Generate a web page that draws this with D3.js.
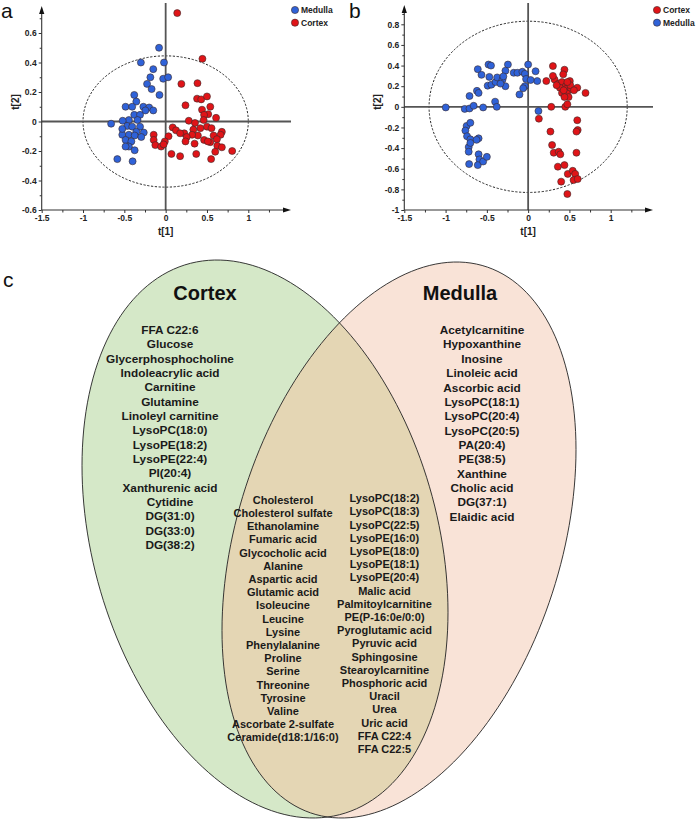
<!DOCTYPE html>
<html><head><meta charset="utf-8">
<script src="https://cdn.jsdelivr.net/npm/d3@7"></script>
<style>
body{margin:0;background:#fff}
svg{display:block}
text{font-family:"Liberation Sans",Arial,Helvetica,sans-serif}
</style>
</head><body>
<svg id="chart" width="697" height="819"></svg>
<script>
// ---------- Panel a data (t[1], t[2]) ----------
const aMedulla = [[-0.08,0.50],[-0.30,0.40],[-0.02,0.40],[-0.15,0.355],[-0.185,0.30],[-0.03,0.29],[0.03,0.30],[-0.225,0.255],[-0.17,0.22],[-0.075,0.18],[-0.38,0.18],[-0.355,0.135],[-0.485,0.10],[-0.405,0.10],[-0.27,0.10],[-0.20,0.095],[-0.15,0.075],[-0.245,0.075],[-0.38,0.045],[-0.31,0.045],[-0.34,0.01],[-0.445,0.01],[-0.52,0.005],[-0.66,-0.015],[-0.465,-0.03],[-0.405,-0.035],[-0.31,-0.035],[-0.355,-0.07],[-0.265,-0.075],[-0.525,-0.09],[-0.445,-0.09],[-0.375,-0.095],[-0.295,-0.105],[-0.485,-0.125],[-0.415,-0.135],[-0.445,-0.17],[-0.485,-0.17],[-0.375,-0.195],[-0.585,-0.255],[-0.40,-0.27],[-0.525,-0.05]];
const aCortex = [[0.14,0.735],[0.445,0.425],[0.19,0.255],[0.385,0.26],[0.38,0.155],[0.43,0.15],[0.50,0.17],[0.24,0.11],[0.54,0.10],[0.44,0.08],[0.515,0.05],[0.465,0.045],[0.61,0.025],[0.28,0.005],[0.355,-0.01],[0.46,0.01],[0.085,-0.04],[0.125,-0.06],[0.225,-0.08],[0.175,-0.08],[0.335,-0.055],[0.42,-0.045],[0.50,-0.035],[0.555,-0.045],[0.39,-0.095],[0.32,-0.09],[0.255,-0.105],[0.68,-0.07],[0.665,-0.09],[0.58,-0.095],[-0.145,-0.09],[-0.145,-0.125],[0.035,-0.10],[-0.01,-0.135],[-0.125,-0.16],[-0.055,-0.17],[-0.025,-0.155],[0.24,-0.135],[0.35,-0.15],[0.465,-0.125],[0.54,-0.14],[0.62,-0.12],[0.625,-0.165],[0.60,-0.205],[0.68,-0.175],[0.805,-0.20],[0.07,-0.22],[0.175,-0.235],[0.37,-0.22],[0.55,-0.255],[0.51,-0.135]];
const aEllipse = [1.0, 0.445];
const aXTicks = [-1.5,-1,-0.5,0,0.5,1];
const aXMinor = [-1.25,-0.75,-0.25,0.25,0.75,1.25];
const aYTicks = [-0.6,-0.4,-0.2,0,0.2,0.4,0.6];
const aYMinor = [-0.5,-0.3,-0.1,0.1,0.3,0.5,0.7];

// ---------- Panel b data ----------
const bMedulla = [[-0.998,-0.006],[-0.768,-0.02],[-0.71,-0.016],[-0.66,0.01],[-0.545,-0.006],[-0.40,0.05],[-0.38,0.0],[-0.71,0.105],[-0.62,0.155],[-0.60,0.135],[-0.61,0.365],[-0.565,0.31],[-0.48,0.41],[-0.45,0.40],[-0.47,0.29],[-0.49,0.205],[-0.445,0.215],[-0.395,0.24],[-0.375,0.285],[-0.31,0.265],[-0.275,0.20],[-0.245,0.41],[-0.275,0.35],[-0.175,0.33],[-0.13,0.33],[-0.07,0.34],[-0.04,0.32],[0.0,0.41],[-0.025,0.27],[-0.04,0.20],[-0.06,0.18],[-0.105,0.12],[0.09,0.345],[0.11,0.25],[0.03,0.26],[0.125,-0.04],[-0.30,0.295],[-0.335,0.225],[-0.745,-0.185],[-0.76,-0.23],[-0.70,-0.155],[-0.74,-0.285],[-0.70,-0.315],[-0.60,-0.305],[-0.625,-0.32],[-0.72,-0.39],[-0.72,-0.435],[-0.60,-0.46],[-0.59,-0.51],[-0.61,-0.565],[-0.545,-0.53],[-0.50,-0.485],[-0.715,-0.555],[-0.70,-0.35]];
const bCortex = [[0.30,0.395],[0.44,0.36],[0.22,0.25],[0.32,0.265],[0.30,0.30],[0.425,0.315],[0.37,0.225],[0.41,0.24],[0.455,0.20],[0.505,0.25],[0.385,0.185],[0.465,0.175],[0.52,0.17],[0.595,0.185],[0.41,0.135],[0.47,0.13],[0.49,0.095],[0.44,0.095],[0.695,0.135],[0.51,0.21],[0.345,0.21],[0.28,0.0],[0.45,0.0],[0.475,0.025],[0.555,0.16],[0.475,0.24],[0.43,0.16],[0.13,-0.115],[0.27,-0.24],[0.29,-0.37],[0.31,-0.445],[0.37,-0.435],[0.39,-0.46],[0.36,-0.58],[0.44,-0.565],[0.40,-0.725],[0.48,-0.65],[0.54,-0.62],[0.57,-0.65],[0.55,-0.71],[0.60,-0.70],[0.475,-0.845],[0.595,-0.13],[0.60,-0.225],[0.585,-0.24],[0.585,-0.445]];
const bEllipse = [1.2, 0.83];
const bXTicks = [-1.5,-1,-0.5,0,0.5,1];
const bXMinor = [-1.25,-0.75,-0.25,0.25,0.75,1.25];
const bYTicks = [-1,-0.8,-0.6,-0.4,-0.2,0,0.2,0.4,0.6,0.8];
const bYMinor = [-0.9,-0.7,-0.5,-0.3,-0.1,0.1,0.3,0.5,0.7,0.9];

// ---------- Panel c data ----------
const cortexOnly = ["FFA C22:6","Glucose","Glycerphosphocholine","Indoleacrylic acid","Carnitine","Glutamine","Linoleyl carnitine","LysoPC(18:0)","LysoPE(18:2)","LysoPE(22:4)","PI(20:4)","Xanthurenic acid","Cytidine","DG(31:0)","DG(33:0)","DG(38:2)"];
const medullaOnly = ["Acetylcarnitine","Hypoxanthine","Inosine","Linoleic acid","Ascorbic acid","LysoPC(18:1)","LysoPC(20:4)","LysoPC(20:5)","PA(20:4)","PE(38:5)","Xanthine","Cholic acid","DG(37:1)","Elaidic acid"];
const sharedLeft = ["Cholesterol","Cholesterol sulfate","Ethanolamine","Fumaric acid","Glycocholic acid","Alanine","Aspartic acid","Glutamic acid","Isoleucine","Leucine","Lysine","Phenylalanine","Proline","Serine","Threonine","Tyrosine","Valine","Ascorbate 2-sulfate","Ceramide(d18:1/16:0)"];
const sharedRight = ["LysoPC(18:2)","LysoPC(18:3)","LysoPC(22:5)","LysoPE(16:0)","LysoPE(18:0)","LysoPE(18:1)","LysoPE(20:4)","Malic acid","Palmitoylcarnitine","PE(P-16:0e/0:0)","Pyroglutamic acid","Pyruvic acid","Sphingosine","Stearoylcarnitine","Phosphoric acid","Uracil","Urea","Uric acid","FFA C22:4","FFA C22:5"];

const BLUE = "#2f62d8", RED = "#e01418";
const svg = d3.select("#chart");
const fmt = d => String(d);

function drawPCA(cfg) {
  const x = d3.scaleLinear().domain([-1.5, 1]).range(cfg.xRange);
  const y = d3.scaleLinear().domain(cfg.yDomain).range(cfg.yRange);
  const g = svg.append("g");
  const x0 = x(-1.5), yb = y(cfg.yDomain[0]);

  // Hotelling ellipse
  g.append("ellipse").attr("cx", x(0)).attr("cy", y(0))
    .attr("rx", x(cfg.ell[0]) - x(0)).attr("ry", y(0) - y(cfg.ell[1]))
    .attr("fill", "none").attr("stroke", "#111").attr("stroke-width", 0.9)
    .attr("stroke-dasharray", "2.2,1.6");

  // cross lines
  g.append("line").attr("x1", x0).attr("x2", cfg.xArrow).attr("y1", y(0)).attr("y2", y(0))
    .attr("stroke", "#555").attr("stroke-width", 1.8);
  g.append("line").attr("x1", x(0)).attr("x2", x(0)).attr("y1", cfg.vTop).attr("y2", yb)
    .attr("stroke", "#555").attr("stroke-width", 1.8);

  // axes
  const xa = g.append("g").attr("transform", `translate(0,${yb})`)
    .call(d3.axisBottom(x).tickValues(cfg.xTicks).tickSize(3).tickPadding(2).tickFormat(fmt));
  const xm = g.append("g").attr("transform", `translate(0,${yb})`)
    .call(d3.axisBottom(x).tickValues(cfg.xMinor).tickSize(2.5).tickFormat(""));
  const ya = g.append("g").attr("transform", `translate(${x0},0)`)
    .call(d3.axisLeft(y).tickValues(cfg.yTicks).tickSize(3).tickPadding(2).tickFormat(fmt));
  const ym = g.append("g").attr("transform", `translate(${x0},0)`)
    .call(d3.axisLeft(y).tickValues(cfg.yMinor).tickSize(2).tickFormat(""));
  [xa, xm, ya, ym].forEach(a => {
    a.select(".domain").remove();
    a.selectAll("line").attr("stroke", "#333");
    a.selectAll("text").attr("font-size", 8.5).attr("font-weight", "bold").attr("fill", "#222");
  });

  // axis lines + arrows
  g.append("line").attr("x1", x0).attr("x2", cfg.xArrow - 4).attr("y1", yb).attr("y2", yb)
    .attr("stroke", "#333").attr("stroke-width", 1.1);
  g.append("line").attr("x1", x0).attr("x2", x0).attr("y1", yb).attr("y2", cfg.yArrow + 4)
    .attr("stroke", "#333").attr("stroke-width", 1.1);
  g.append("path").attr("d", `M${cfg.xArrow},${yb} l-8,-2.6 l0,5.2 Z`).attr("fill", "#111");
  g.append("path").attr("d", `M${x0},${cfg.yArrow} l-2.6,8 l5.2,0 Z`).attr("fill", "#111");

  // points
  cfg.series.forEach(s => {
    g.append("g").selectAll("circle").data(s.data).join("circle")
      .attr("cx", d => x(d[0])).attr("cy", d => y(d[1])).attr("r", 3.5)
      .attr("fill", s.color).attr("stroke", "#3a2a2a").attr("stroke-width", 0.6);
  });

  // axis titles
  g.append("text").attr("x", x(0)).attr("y", 235).attr("text-anchor", "middle")
    .attr("font-size", 10).attr("font-weight", "bold").attr("fill", "#222").text("t[1]");
  g.append("text").attr("transform", `translate(${x0 - 23},${cfg.t2y}) rotate(-90)`)
    .attr("text-anchor", "middle").attr("font-size", 10).attr("font-weight", "bold")
    .attr("fill", "#222").text("t[2]");

  // legend
  cfg.legend.forEach((s, i) => {
    const ly = 10 + i * 12.7;
    g.append("circle").attr("cx", cfg.legX).attr("cy", ly).attr("r", 3.6)
      .attr("fill", s.color).attr("stroke", "#3a2a2a").attr("stroke-width", 0.6);
    g.append("text").attr("x", cfg.legX + 6).attr("y", ly + 3).attr("font-size", 8.5)
      .attr("font-weight", "bold").attr("fill", "#222").text(s.name);
  });

  // panel label
  svg.append("text").attr("x", cfg.labX).attr("y", 18).attr("font-size", 21)
    .attr("fill", "#111").text(cfg.label);
}

drawPCA({
  xRange: [41.7, 248.3], yDomain: [-0.6, 0.6], yRange: [210, 33],
  ell: aEllipse, xArrow: 291, yArrow: 6, vTop: 3, t2y: 102,
  xTicks: aXTicks, xMinor: aXMinor, yTicks: aYTicks, yMinor: aYMinor,
  series: [{data: aMedulla, color: BLUE}, {data: aCortex, color: RED}],
  legend: [{name: "Medulla", color: BLUE}, {name: "Cortex", color: RED}],
  legX: 295, labX: 1, label: "a"
});
drawPCA({
  xRange: [404.3, 610.7], yDomain: [-1, 0.8], yRange: [210, 24.3],
  ell: bEllipse, xArrow: 653, yArrow: 5, vTop: 3, t2y: 102,
  xTicks: bXTicks, xMinor: bXMinor, yTicks: bYTicks, yMinor: bYMinor,
  series: [{data: bMedulla, color: BLUE}, {data: bCortex, color: RED}],
  legend: [{name: "Cortex", color: RED}, {name: "Medulla", color: BLUE}],
  legX: 657, labX: 349, label: "b"
});

// ---------- Panel c: Venn ----------
const green = {cx: 265, cy: 539, w: 183, h: 279, mxy: 13400};
const pink = {cx: 399, cy: 540, w: 177, h: 278, mxy: -16000};
function ellPath(e) {
  const l21 = e.mxy / e.w, l22 = Math.sqrt(e.h * e.h - l21 * l21);
  const pts = d3.range(0, 360, 2).map(a => {
    const t = a * Math.PI / 180;
    return [e.cx + e.w * Math.cos(t), e.cy + l21 * Math.cos(t) + l22 * Math.sin(t)];
  });
  return d3.line().curve(d3.curveCardinalClosed)(pts);
}
const gP = ellPath(green), pP = ellPath(pink);
const defs = svg.append("defs");
defs.append("clipPath").attr("id", "gclip").append("path").attr("d", gP);
svg.append("path").attr("d", gP).attr("fill", "#d5e8c8");
svg.append("path").attr("d", pP).attr("fill", "#f9e3d7");
svg.append("path").attr("d", pP).attr("fill", "#e4d6b4").attr("clip-path", "url(#gclip)");
svg.append("path").attr("d", gP).attr("fill", "none").attr("stroke", "#222").attr("stroke-width", 0.9);
svg.append("path").attr("d", pP).attr("fill", "none").attr("stroke", "#222").attr("stroke-width", 0.9);

svg.append("text").attr("x", 3).attr("y", 287).attr("font-size", 21).attr("fill", "#111").text("c");
svg.append("text").attr("x", 205).attr("y", 300).attr("text-anchor", "middle").attr("font-size", 20)
  .attr("font-weight", "bold").attr("fill", "#111").text("Cortex");
svg.append("text").attr("x", 460).attr("y", 300).attr("text-anchor", "middle").attr("font-size", 20)
  .attr("font-weight", "bold").attr("fill", "#111").text("Medulla");

function list(items, x, y0, step, size) {
  svg.append("g").selectAll("text").data(items).join("text")
    .attr("x", x).attr("y", (d, i) => y0 + i * step).attr("dy", "0.35em")
    .attr("text-anchor", "middle").attr("font-size", size).attr("font-weight", "bold")
    .attr("fill", "#1a1a1a").text(d => d);
}
list(cortexOnly, 170, 330, 14.33, 11.8);
list(medullaOnly, 482, 330, 14.36, 11.8);
list(sharedLeft, 283, 500, 13.2, 11);
list(sharedRight, 384.5, 498.3, 13.2, 11);
</script>
</body></html>
